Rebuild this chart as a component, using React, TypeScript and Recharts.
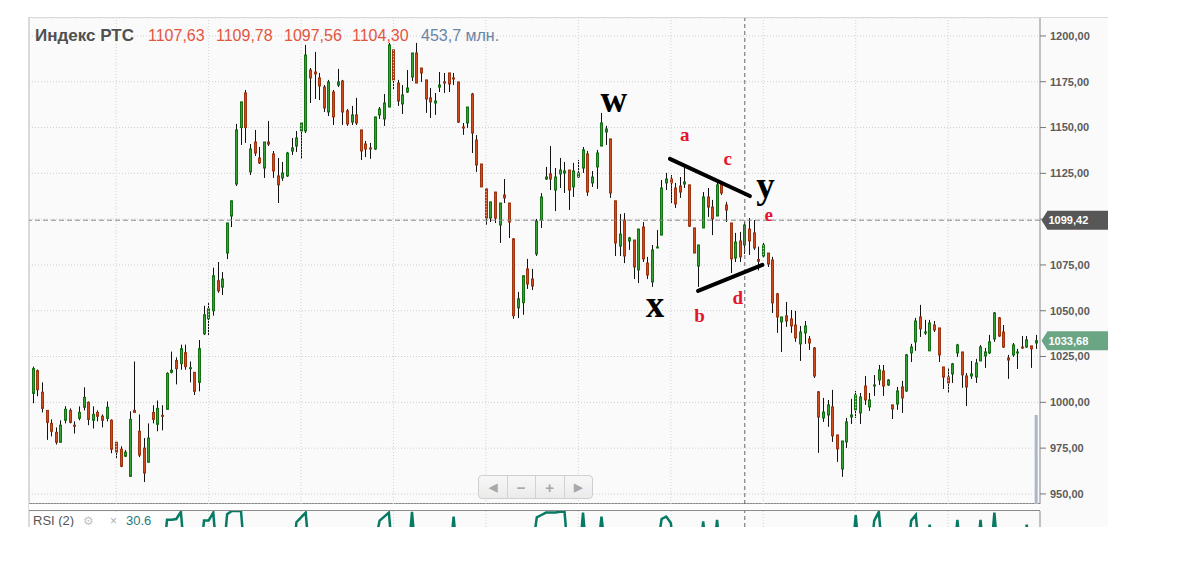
import React from 'react';
import {
  ComposedChart,
  LineChart,
  Line,
  Bar,
  XAxis,
  YAxis,
  CartesianGrid,
  ReferenceLine,
  ReferenceDot,
} from 'recharts';

// ---------- data ----------
const opens = [
  1004.9, 1017.3, 1005.5, 995.6, 988.5, 983.6, 978.2, 990.2, 995.6, 987.5,
  991.3, 997.3, 1000.0, 990.2, 994.5, 992.4, 991.3, 990.2, 978.2, 974.4,
  970.6, 959.6, 995.6, 984.2, 975.0, 967.3, 994.5, 988.0, 992.9, 996.2,
  1016.4, 1022.8, 1021.1, 1027.1, 1018.4, 1016.4, 1010.9, 1037.4, 1045.6, 1050.0,
  1066.4, 1062.9, 1081.5, 1101.7, 1119.2, 1150.0, 1168.9, 1125.8, 1142.1, 1133.4,
  1127.9, 1142.1, 1135.6, 1123.6, 1122.5, 1123.6, 1137.2, 1139.9, 1148.1, 1148.1,
  1181.4, 1180.3, 1177.1, 1172.1, 1158.5, 1169.4, 1173.2, 1175.4, 1159.1, 1153.0,
  1156.9, 1148.7, 1141.0, 1138.9, 1138.3, 1156.9, 1154.7, 1161.2, 1192.4, 1174.3,
  1162.9, 1169.4, 1177.6, 1190.7, 1182.5, 1176.0, 1166.2, 1163.4, 1172.1, 1174.9,
  1179.8, 1177.1, 1174.9, 1150.3, 1152.5, 1168.3, 1143.2, 1130.1, 1116.5, 1100.6,
  1114.8, 1096.8, 1113.2, 1108.8, 1089.2, 1051.6, 1054.4, 1072.8, 1067.3, 1081.0,
  1099.5, 1121.9, 1124.7, 1115.9, 1124.7, 1125.2, 1126.8, 1117.6, 1123.0, 1127.9,
  1135.6, 1119.8, 1128.5, 1139.9, 1147.6, 1143.8, 1110.0, 1085.3, 1099.5, 1088.1,
  1088.6, 1072.3, 1095.7, 1076.0, 1065.7, 1084.3, 1091.3, 1119.8, 1121.9, 1117.0,
  1118.1, 1119.2, 1118.7, 1095.2, 1074.4, 1095.2, 1112.1, 1106.6, 1101.7, 1119.2,
  1107.7, 1097.9, 1078.8, 1088.1, 1085.9, 1094.6, 1092.5, 1078.0, 1079.9, 1081.5,
  1077.7, 1059.2, 1043.9, 1047.2, 1045.5, 1042.2, 1031.9, 1037.9, 1034.6, 1029.7,
  1005.7, 991.5, 993.1, 997.5, 982.2, 963.6, 978.4, 992.0, 995.9, 994.2,
  1008.9, 997.5, 1008.9, 1012.2, 1017.1, 1009.5, 998.6, 999.1, 1008.4, 1006.2,
  1027.0, 1033.0, 1046.6, 1037.9, 1028.1, 1042.2, 1040.6, 1019.3, 1013.8, 1015.5,
  1027.0, 1027.5, 1014.4, 1014.4, 1013.8, 1022.6, 1025.3, 1027.0, 1034.6, 1046.1,
  1038.4, 1024.2, 1025.9, 1027.0, 1030.2, 1030.2, 1030.8, 1032.4,
];

const highs = [
  1019.5, 1017.9, 1010.9, 995.6, 990.7, 986.3, 990.2, 997.9, 996.7, 989.6,
  997.8, 1008.2, 1000.5, 997.8, 995.6, 993.4, 1000.5, 990.7, 978.2, 976.0,
  973.9, 995.1, 1022.3, 993.4, 980.5, 988.5, 998.4, 1001.0, 998.4, 1016.4,
  1027.7, 1024.5, 1031.5, 1031.5, 1022.3, 1016.4, 1034.0, 1052.7, 1054.4, 1073.5,
  1076.6, 1071.1, 1097.9, 1110.0, 1152.0, 1164.0, 1170.5, 1141.0, 1148.7, 1139.4,
  1142.1, 1153.6, 1137.2, 1133.4, 1131.2, 1136.7, 1144.3, 1148.1, 1152.5, 1195.1,
  1182.5, 1191.3, 1179.8, 1173.2, 1176.0, 1170.5, 1182.0, 1176.0, 1160.1, 1161.8,
  1166.2, 1148.7, 1142.7, 1141.6, 1155.8, 1161.2, 1168.3, 1196.2, 1192.4, 1176.0,
  1173.2, 1181.4, 1190.7, 1196.2, 1182.5, 1176.0, 1171.6, 1168.9, 1180.3, 1179.8,
  1179.8, 1179.8, 1174.9, 1152.5, 1161.2, 1168.9, 1145.9, 1130.1, 1117.1, 1109.4,
  1114.8, 1108.8, 1121.9, 1108.8, 1089.7, 1060.3, 1069.1, 1078.3, 1072.8, 1100.1,
  1114.2, 1128.5, 1139.9, 1127.9, 1133.4, 1131.2, 1126.8, 1130.7, 1132.3, 1139.4,
  1137.2, 1126.3, 1137.8, 1158.0, 1150.9, 1143.8, 1110.0, 1102.8, 1103.3, 1090.3,
  1088.6, 1094.6, 1098.4, 1079.4, 1085.9, 1094.1, 1121.4, 1125.2, 1124.1, 1119.8,
  1123.0, 1129.0, 1118.7, 1095.2, 1085.9, 1114.8, 1117.0, 1110.5, 1119.8, 1120.3,
  1109.4, 1097.9, 1092.5, 1093.0, 1098.4, 1100.6, 1099.5, 1085.0, 1087.0, 1081.5,
  1079.4, 1059.7, 1046.6, 1054.8, 1050.4, 1049.9, 1041.7, 1044.4, 1036.2, 1030.2,
  1006.2, 1002.4, 1001.3, 1006.8, 982.2, 978.9, 991.5, 1001.9, 1006.2, 1005.1,
  1014.4, 1005.1, 1014.9, 1020.4, 1020.4, 1012.7, 998.6, 1008.4, 1011.7, 1026.4,
  1031.9, 1046.1, 1053.2, 1045.0, 1045.0, 1044.4, 1040.6, 1019.3, 1018.8, 1021.5,
  1031.9, 1027.5, 1016.0, 1022.6, 1023.7, 1031.3, 1029.7, 1036.8, 1049.3, 1046.6,
  1042.2, 1025.9, 1032.4, 1029.2, 1036.2, 1036.2, 1030.8, 1036.8,
];

const lows = [
  999.5, 1003.3, 994.5, 979.5, 981.4, 977.0, 978.2, 988.5, 988.5, 983.0,
  990.2, 995.6, 987.5, 985.7, 989.6, 986.3, 989.6, 972.2, 969.5, 964.6,
  970.1, 959.6, 994.5, 970.1, 956.5, 967.3, 988.5, 984.2, 984.7, 996.2,
  1015.8, 1009.8, 1017.8, 1017.8, 1010.9, 1004.0, 1006.0, 1036.8, 1036.8, 1047.3,
  1059.8, 1058.6, 1078.2, 1095.7, 1118.1, 1140.5, 1141.6, 1124.1, 1134.5, 1130.1,
  1122.5, 1139.9, 1122.5, 1108.8, 1120.9, 1123.0, 1135.0, 1136.7, 1132.9, 1147.0,
  1163.4, 1165.6, 1165.0, 1158.5, 1156.3, 1151.4, 1172.1, 1151.4, 1150.9, 1151.4,
  1151.4, 1132.3, 1133.9, 1132.9, 1137.8, 1154.7, 1150.9, 1161.2, 1170.5, 1161.8,
  1157.4, 1168.9, 1175.4, 1174.3, 1174.9, 1158.0, 1155.2, 1156.9, 1169.4, 1168.9,
  1169.4, 1173.2, 1152.5, 1146.0, 1149.8, 1136.1, 1125.8, 1117.6, 1096.8, 1098.4,
  1097.9, 1087.0, 1108.8, 1089.7, 1045.6, 1046.0, 1047.8, 1061.9, 1061.3, 1079.9,
  1095.2, 1121.4, 1115.9, 1104.4, 1117.0, 1114.3, 1105.0, 1112.1, 1122.5, 1125.2,
  1112.7, 1117.6, 1116.5, 1139.9, 1140.5, 1111.6, 1079.9, 1079.9, 1076.0, 1083.2,
  1067.3, 1065.1, 1076.6, 1067.3, 1063.0, 1084.3, 1091.3, 1115.9, 1108.8, 1106.1,
  1111.6, 1117.0, 1095.7, 1081.5, 1063.0, 1095.2, 1101.2, 1091.3, 1101.7, 1113.2,
  1098.4, 1070.6, 1076.6, 1076.6, 1081.0, 1080.5, 1083.2, 1072.0, 1078.8, 1073.9,
  1048.8, 1037.9, 1027.5, 1041.2, 1037.9, 1033.0, 1022.6, 1031.9, 1028.6, 1013.3,
  972.4, 989.3, 986.6, 978.4, 967.5, 959.3, 975.1, 988.2, 991.5, 988.2,
  998.6, 995.3, 1003.5, 1009.5, 1003.5, 1009.0, 990.9, 995.9, 994.2, 1005.7,
  1022.0, 1028.1, 1035.7, 1036.8, 1028.1, 1038.4, 1022.0, 1007.3, 1005.1, 1010.6,
  1024.8, 1007.9, 998.0, 1012.8, 1010.6, 1022.6, 1018.8, 1026.4, 1033.0, 1035.7,
  1029.7, 1012.8, 1024.8, 1018.2, 1029.2, 1029.7, 1018.8, 1029.2,
];

const closes = [
  1018.4, 1006.9, 996.7, 989.1, 984.2, 978.2, 987.5, 996.2, 989.1, 987.0,
  994.5, 1002.7, 990.7, 993.4, 992.4, 990.2, 997.3, 974.4, 972.8, 965.1,
  972.8, 990.7, 994.5, 971.2, 961.4, 980.5, 990.7, 996.7, 992.4, 1015.8,
  1017.5, 1018.4, 1029.3, 1019.5, 1018.9, 1006.0, 1029.3, 1047.8, 1051.1, 1069.1,
  1060.9, 1067.3, 1097.9, 1110.0, 1148.7, 1164.0, 1150.0, 1138.3, 1136.1, 1130.7,
  1142.1, 1141.0, 1126.3, 1118.7, 1125.2, 1136.1, 1138.9, 1144.3, 1152.5, 1189.6,
  1177.1, 1179.3, 1172.7, 1160.7, 1174.9, 1155.8, 1174.9, 1158.5, 1152.0, 1156.9,
  1152.5, 1137.2, 1138.3, 1138.3, 1155.8, 1160.1, 1163.4, 1195.1, 1176.0, 1164.5,
  1167.8, 1171.6, 1190.7, 1174.3, 1179.8, 1165.6, 1164.0, 1164.5, 1173.2, 1174.3,
  1173.8, 1176.5, 1153.0, 1149.8, 1161.2, 1147.0, 1129.6, 1117.6, 1100.6, 1109.4,
  1100.6, 1108.8, 1111.6, 1098.4, 1047.3, 1056.5, 1069.1, 1064.6, 1063.5, 1098.9,
  1112.1, 1123.0, 1121.9, 1123.0, 1126.8, 1126.3, 1115.9, 1126.3, 1125.2, 1137.8,
  1114.8, 1123.0, 1136.1, 1152.5, 1149.2, 1114.3, 1087.0, 1091.8, 1079.9, 1089.7,
  1073.9, 1094.6, 1078.3, 1069.5, 1083.2, 1084.8, 1117.0, 1121.9, 1119.8, 1108.3,
  1114.8, 1120.3, 1096.2, 1081.5, 1085.9, 1112.1, 1106.6, 1100.1, 1118.7, 1114.3,
  1105.0, 1078.3, 1087.5, 1079.4, 1096.8, 1088.1, 1084.3, 1077.0, 1085.9, 1075.5,
  1054.3, 1046.6, 1046.6, 1044.4, 1041.7, 1035.2, 1038.4, 1041.7, 1032.4, 1014.4,
  992.0, 994.7, 998.6, 981.7, 974.6, 978.9, 989.3, 993.1, 1004.0, 1002.9,
  1001.3, 1001.3, 1009.5, 1017.7, 1008.9, 1012.2, 996.4, 1006.2, 1002.4, 1025.9,
  1030.2, 1044.4, 1040.1, 1038.4, 1043.3, 1039.5, 1025.9, 1013.8, 1010.6, 1021.0,
  1031.3, 1015.0, 1008.4, 1015.5, 1021.5, 1030.2, 1027.5, 1033.0, 1048.8, 1036.2,
  1030.2, 1023.1, 1031.3, 1027.5, 1029.7, 1034.1, 1029.2, 1033.68,
];

// RSI(2): [candle number, value] – only the stretches that reach the visible top band
const rsiPoints: [number, number][] = [
  [29, 30], [30, 89], [31, 89], [32, 90], [33, 99], [34, 30],
  [37, 30], [38, 88], [39, 88], [40, 98], [41, 30], [42, 30], [43, 96], [44, 100], [45, 100], [46, 100], [47, 30],
  [57, 30], [58, 86], [59, 92], [60, 98], [61, 30],
  [75, 60], [76, 88], [77, 93], [78, 98], [79, 30],
  [82, 30], [83, 99], [84, 30],
  [91, 30], [92, 93], [93, 30],
  [109, 50], [110, 92], [111, 95], [112, 98], [113, 98], [114, 98], [115, 99], [116, 99], [117, 30],
  [119, 30], [120, 98], [121, 30],
  [123, 40], [124, 93], [125, 40],
  [136, 50], [137, 90], [138, 93], [139, 85], [140, 30],
  [145, 30], [146, 87], [147, 30], [148, 30], [149, 89], [150, 30],
  [178, 30], [179, 95], [180, 30],
  [182, 30], [183, 88], [184, 99], [185, 30],
  [190, 30], [191, 88], [192, 95], [193, 30], [194, 30], [195, 83], [196, 30],
  [200, 30], [201, 89], [202, 30], [205, 30], [206, 89], [207, 30],
  [208, 30], [209, 98], [210, 30], [215, 30], [216, 83], [217, 30], [218, 30.6],
];

const priceTicks = [950, 975, 1000, 1025, 1050, 1075, 1100, 1125, 1150, 1175, 1200];
const monthTicks = [19, 39, 59, 79, 99, 119, 139, 159, 179, 199];
const rsiTicks = [100];
const xDomain: [number, number] = [0.135, 218.87];
const priceDomain: [number, number] = [944.5, 1209.8];
const rsiDomain: [number, number] = [80, 100];
const volumeDomain: [number, number] = [0, 2477];

const crosshairIndex = 155;
const crosshairPrice = 1099.42;
const lastPrice = 1033.68;
const lastVolume = 453.7;
const rsiLast = '30.6';

const headerTitle = 'Индекс РТС';
const headerValues = ['1107,63', '1109,78', '1097,56', '1104,30'];
const headerVolume = '453,7 млн.';

const trendLines = [
  { from: { x: 138.8, y: 1132.9 }, to: { x: 156.1, y: 1112.6 } },
  { from: { x: 144.9, y: 1060.8 }, to: { x: 158.8, y: 1075.0 } },
];

const waveLabels = [
  { text: 'w', x: 126.7, y: 1158.5, big: true },
  { text: 'x', x: 135.6, y: 1046.6, big: true },
  { text: 'y', x: 159.5, y: 1111.6, big: true },
  { text: 'a', x: 142.0, y: 1142.7, big: false },
  { text: 'b', x: 145.2, y: 1043.9, big: false },
  { text: 'c', x: 151.3, y: 1129.6, big: false },
  { text: 'd', x: 153.5, y: 1053.7, big: false },
  { text: 'e', x: 160.2, y: 1099.0, big: false },
];

// ---------- rows ----------
const rsiMap = new Map<number, number>(rsiPoints);
const rows = opens.map((o, k) => ({
  i: k + 1,
  open: o,
  high: highs[k],
  low: lows[k],
  close: closes[k],
  range: [lows[k], highs[k]],
  rsi: rsiMap.has(k + 1) ? rsiMap.get(k + 1) : null,
  vol: k === opens.length - 1 ? lastVolume : null,
}));

const FONT = '"Liberation Sans", Arial, sans-serif';
const SERIF = '"Liberation Serif", "Times New Roman", serif';

const fmt2 = (v: number) => v.toFixed(2).replace('.', ',');
const fmt1 = (v: number) => v.toFixed(1).replace('.', ',');

const Candle = (props: any) => {
  const { x, y, width, height, payload } = props;
  if (!payload || x == null || y == null) return null;
  const top = Math.min(y, y + height);
  const h = Math.abs(height);
  const { open, close, high, low } = payload;
  const k = high - low > 0 ? h / (high - low) : 0;
  const col = Math.round(x + width / 2);
  const cx = col + 0.5;
  const yO = top + (high - open) * k;
  const yC = top + (high - close) * k;
  const up = close >= open;
  const bTop = Math.min(yO, yC);
  const bH = Math.max(Math.abs(yC - yO), 1);
  return (
    <g>
      <line x1={cx} x2={cx} y1={top} y2={top + h} stroke="#111" strokeWidth={1} />
      <rect
        x={col - 0.5}
        y={bTop}
        width={2}
        height={bH}
        fill={up ? '#35a135' : '#d24b1c'}
        stroke={up ? '#167016' : '#9e3510'}
        strokeWidth={1}
      />
    </g>
  );
};

const PriceTag = (props: any) => {
  const { viewBox, text, fill } = props;
  if (!viewBox) return null;
  const left = viewBox.x + viewBox.width + 1.5;
  const cy = viewBox.y;
  const hh = 9.5;
  return (
    <g>
      <path
        d={`M${left},${cy} L${left + 6},${cy - hh} L${left + 70},${cy - hh} L${left + 70},${cy + hh} L${left + 6},${cy + hh} Z`}
        fill={fill}
      />
      <text x={left + 7} y={cy + 4} fill="#fff" fontSize={11} fontWeight="bold" fontFamily={FONT}>
        {text}
      </text>
    </g>
  );
};

const axisTick = { fontSize: 11, fontWeight: 'bold', fill: '#5c5c5c', fontFamily: FONT } as any;

export default function App() {
  return (
    <div style={{ position: 'absolute', left: 0, top: 0, width: 1180, height: 583, background: '#fff', overflow: 'hidden' }}>
      {/* panel background */}
      <div
        style={{
          position: 'absolute', left: 28, top: 17, width: 1080, height: 510,
          background: '#fafafa', borderLeft: '2px solid #dadada', borderTop: '1px solid #dadada', boxSizing: 'border-box',
        }}
      />
      {/* pane separators */}
      <div style={{ position: 'absolute', left: 29, top: 503, width: 1011, height: 1, background: '#8a8a8a' }} />
      <div style={{ position: 'absolute', left: 29, top: 504, width: 1011, height: 7, background: '#fdfdfd' }} />
      <div style={{ position: 'absolute', left: 29, top: 510, width: 1011, height: 1, background: '#8a8a8a' }} />

      {/* volume overlay */}
      <div style={{ position: 'absolute', left: 29, top: 18 }}>
        <ComposedChart width={1079} height={486} data={rows} margin={{ top: 0, right: 68, bottom: 0, left: 0 }}>
          <XAxis dataKey="i" type="number" domain={xDomain} hide allowDataOverflow />
          <YAxis domain={volumeDomain} hide />
          <Bar dataKey="vol" fill="#a9b8c8" barSize={3} isAnimationActive={false} />
        </ComposedChart>
      </div>

      {/* price chart */}
      <div style={{ position: 'absolute', left: 29, top: 18 }}>
        <ComposedChart width={1079} height={486} data={rows} margin={{ top: 0, right: 0, bottom: 0, left: 0 }}>
          <CartesianGrid vertical={false} stroke="#cfcfcf" strokeDasharray="1 2" />
          <XAxis dataKey="i" type="number" domain={xDomain} hide allowDataOverflow />
          <YAxis
            orientation="right"
            domain={priceDomain}
            ticks={priceTicks}
            allowDataOverflow
            width={68}
            tickFormatter={fmt2}
            tick={axisTick}
            tickSize={6}
            tickMargin={4}
            tickLine={{ stroke: '#777' }}
            axisLine={{ stroke: '#888' }}
          />
          {monthTicks.map((t) => (
            <ReferenceLine key={'m' + t} x={t} stroke="#d4d4d4" strokeDasharray="1 2" />
          ))}
          <ReferenceLine x={crosshairIndex} stroke="#666" strokeDasharray="4 3" />
          <ReferenceLine y={crosshairPrice} stroke="#8a8a8a" strokeDasharray="5 3" />
          <Bar dataKey="range" shape={<Candle />} barSize={4} isAnimationActive={false} />
          {trendLines.map((s, k) => (
            <ReferenceLine
              key={'t' + k}
              segment={[s.from, s.to]}
              stroke="#000"
              strokeWidth={4}
              strokeLinecap="round"
              ifOverflow="visible"
            />
          ))}
          {waveLabels.map((w) => (
            <ReferenceDot
              key={'w' + w.text}
              x={w.x}
              y={w.y}
              r={0}
              ifOverflow="visible"
              shape={(p: any) => (
                <text
                  x={p.cx}
                  y={p.cy}
                  textAnchor="middle"
                  fontFamily={SERIF}
                  fontWeight="bold"
                  fontSize={w.big ? 37 : 19}
                  fill={w.big ? '#000' : '#e5142c'}
                >
                  {w.text}
                </text>
              )}
            />
          ))}
        </ComposedChart>
      </div>

      {/* price tags drawn above the axis labels */}
      <div style={{ position: 'absolute', left: 29, top: 18 }}>
        <ComposedChart width={1079} height={486} data={rows} margin={{ top: 0, right: 68, bottom: 0, left: 0 }}>
          <XAxis dataKey="i" type="number" domain={xDomain} hide allowDataOverflow />
          <YAxis domain={priceDomain} hide allowDataOverflow />
          <ReferenceLine
            y={crosshairPrice}
            stroke="none"
            label={(p: any) => <PriceTag {...p} text={fmt2(crosshairPrice)} fill="#575757" />}
          />
          <ReferenceLine
            y={lastPrice}
            stroke="none"
            label={(p: any) => <PriceTag {...p} text={fmt2(lastPrice)} fill="#6aa584" />}
          />
        </ComposedChart>
      </div>

      {/* RSI pane */}
      <div style={{ position: 'absolute', left: 29, top: 504 }}>
        <LineChart width={1079} height={23} data={rows} margin={{ top: 7, right: 0, bottom: 0, left: 0 }}>
          <XAxis dataKey="i" type="number" domain={xDomain} hide allowDataOverflow />
          <YAxis
            orientation="right"
            domain={rsiDomain}
            ticks={rsiTicks}
            allowDataOverflow
            width={68}
            tickFormatter={fmt1}
            tick={axisTick}
            tickSize={6}
            tickMargin={4}
            tickLine={{ stroke: '#777' }}
            axisLine={{ stroke: '#888' }}
          />
          {monthTicks.map((t) => (
            <ReferenceLine key={'rm' + t} x={t} stroke="#d4d4d4" strokeDasharray="1 2" />
          ))}
          <ReferenceLine x={crosshairIndex} stroke="#666" strokeDasharray="4 3" />
          <Line
            dataKey="rsi"
            stroke="#067a63"
            strokeWidth={2.5}
            dot={false}
            connectNulls={false}
            isAnimationActive={false}
          />
        </LineChart>
      </div>

      {/* text overlay: header and RSI legend */}
      <svg style={{ position: 'absolute', left: 0, top: 0, pointerEvents: 'none' }} width={1180} height={527}>
        <text x={35} y={41} fontFamily={FONT} fontSize={17} fontWeight="bold" fill="#505050">{headerTitle}</text>
        {headerValues.map((v, k) => (
          <text key={v} x={148 + k * 68} y={41} fontFamily={FONT} fontSize={16} fill="#e4553f">{v}</text>
        ))}
        <text x={421} y={41} fontFamily={FONT} fontSize={16} fill="#6a84a6">{headerVolume}</text>
        <rect x={30} y={512} width={130} height={16} fill="#ffffff" opacity={0.85} />
        <text x={33} y={525} fontFamily={FONT} fontSize={13} fill="#555">RSI (2)</text>
        <text x={83} y={525} fontFamily='"DejaVu Sans", sans-serif' fontSize={12} fill="#c4c4c4">⚙</text>
        <text x={110} y={525} fontFamily={FONT} fontSize={12} fill="#b0b0b0">×</text>
        <text x={126} y={525} fontFamily={FONT} fontSize={13} fill="#1c7c7c">{rsiLast}</text>
      </svg>

      {/* navigation buttons */}
      <div
        style={{
          position: 'absolute', left: 478, top: 475, width: 115, height: 24, boxSizing: 'border-box',
          border: '1px solid #cfcfcf', borderRadius: 4, background: 'linear-gradient(#f7f7f7, #ebebeb)',
          display: 'flex', fontFamily: FONT, color: '#a8a8a8', fontSize: 13, fontWeight: 'bold',
        }}
      >
        {['◀', '−', '+', '▶'].map((g, k) => (
          <div
            key={g}
            style={{
              flex: 1, display: 'flex', alignItems: 'center', justifyContent: 'center',
              borderLeft: k === 0 ? 'none' : '1px solid #d2d2d2', fontSize: k === 0 || k === 3 ? 11 : 15,
            }}
          >
            {g}
          </div>
        ))}
      </div>
    </div>
  );
}
